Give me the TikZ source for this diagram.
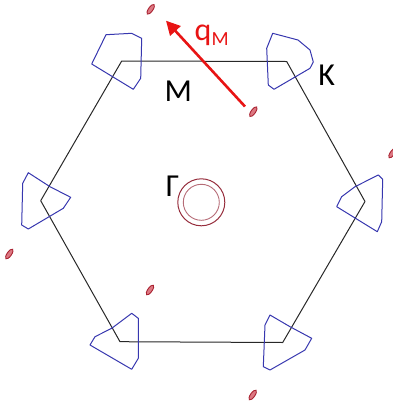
\documentclass[tikz,border=0pt]{standalone}
\usepackage{fontspec}
\setmainfont{Carlito}
\usetikzlibrary{arrows.meta}
\definecolor{hexline}{RGB}{40,40,40}
\definecolor{pocket}{RGB}{55,55,175}
\definecolor{spot}{RGB}{170,35,50}
\definecolor{spotfill}{RGB}{220,120,130}
\definecolor{ring}{RGB}{150,45,60}
\definecolor{qred}{RGB}{232,20,20}
\tikzset{
  bz/.style={draw=hexline, line width=1pt, line join=round},
  kpocket/.style={draw=pocket, line width=1pt, line join=round},
  redspot/.style={draw=spot, fill=spotfill, line width=0.9pt},
  lab/.style={inner sep=0pt, font=\fontsize{32}{32}\selectfont},
}
\begin{document}
\begin{tikzpicture}[x=1pt,y=-1pt]
\useasboundingbox (0,0) rectangle (393,408);
% hexagon corners
\coordinate (TL) at (121.7,61);
\coordinate (TR) at (286.7,61.5);
\coordinate (R) at (365,201.5);
\coordinate (BR) at (282.7,342.5);
\coordinate (BL) at (120,341.7);
\coordinate (L) at (40.7,200.7);
\draw[bz] (TL) -- (TR) -- (R) -- (BR) -- (BL) -- (L) -- cycle;
% K pockets
\draw[kpocket] (91.7,64) -- (106,34.7) -- (131.7,33.3) -- (141.7,38.3) -- (140.7,78.3) -- (133.3,89.3) -- cycle;
\draw[kpocket] (272.7,33.3) -- (266.7,48.3) -- (268.3,85) -- (274,89.3) -- (310,68.3) -- (313.3,62) -- (310,50) -- (298,40) -- cycle;
\draw[kpocket] (28.3,172.7) -- (22.7,183.3) -- (21.7,225) -- (28.3,229) -- (63.3,208.3) -- (70.7,197.3) -- (50,186.7) -- cycle;
\draw[kpocket] (378.3,175) -- (382.7,179.3) -- (381.7,221.7) -- (377.3,231.7) -- (336.7,206.7) -- (341.7,196.7) -- (355,186.7) -- cycle;
\draw[kpocket] (131.7,313.3) -- (138.3,318.3) -- (138.3,358.3) -- (131.7,369.3) -- (90,345) -- (95,336.7) -- (111.7,328.3) -- cycle;
\draw[kpocket] (270,315) -- (265,325) -- (263.3,366.7) -- (270,370) -- (305,350) -- (311.7,338.3) -- (290,326.7) -- cycle;
% red spots
\foreach \p in {(150.7,9.3),(253.3,111.7),(9.3,254),(150,290),(252.7,395),(392.5,153)}{
  \draw[redspot] \p ellipse [x radius=5.8pt, y radius=2.2pt, rotate=55];
}
% Gamma rings
\draw[ring, line width=1pt] (201.3,202.3) circle [radius=23.5];
\draw[ring!70!white, line width=0.9pt] (201.3,202.3) circle [radius=18];
% arrow q_M
\coordinate (qs) at (245,106.5);
\coordinate (qe) at (166,20.7);
\draw[qred, line width=2.6pt, -{Triangle[length=14pt,width=14pt]}] (qs) -- (qe);
% labels
\node[lab, anchor=center] (mlab) at (178.3,91.7) {M};
\node[lab, anchor=center] (klab) at (326.7,75.5) {K};
\node[lab, anchor=center] (glab) at (172.5,186) {Γ};
\node[lab, anchor=base west, text=qred] (qlab) at (194.5,40) {q\raisebox{-5pt}{\fontsize{20}{20}\selectfont M}};
\end{tikzpicture}
\end{document}
